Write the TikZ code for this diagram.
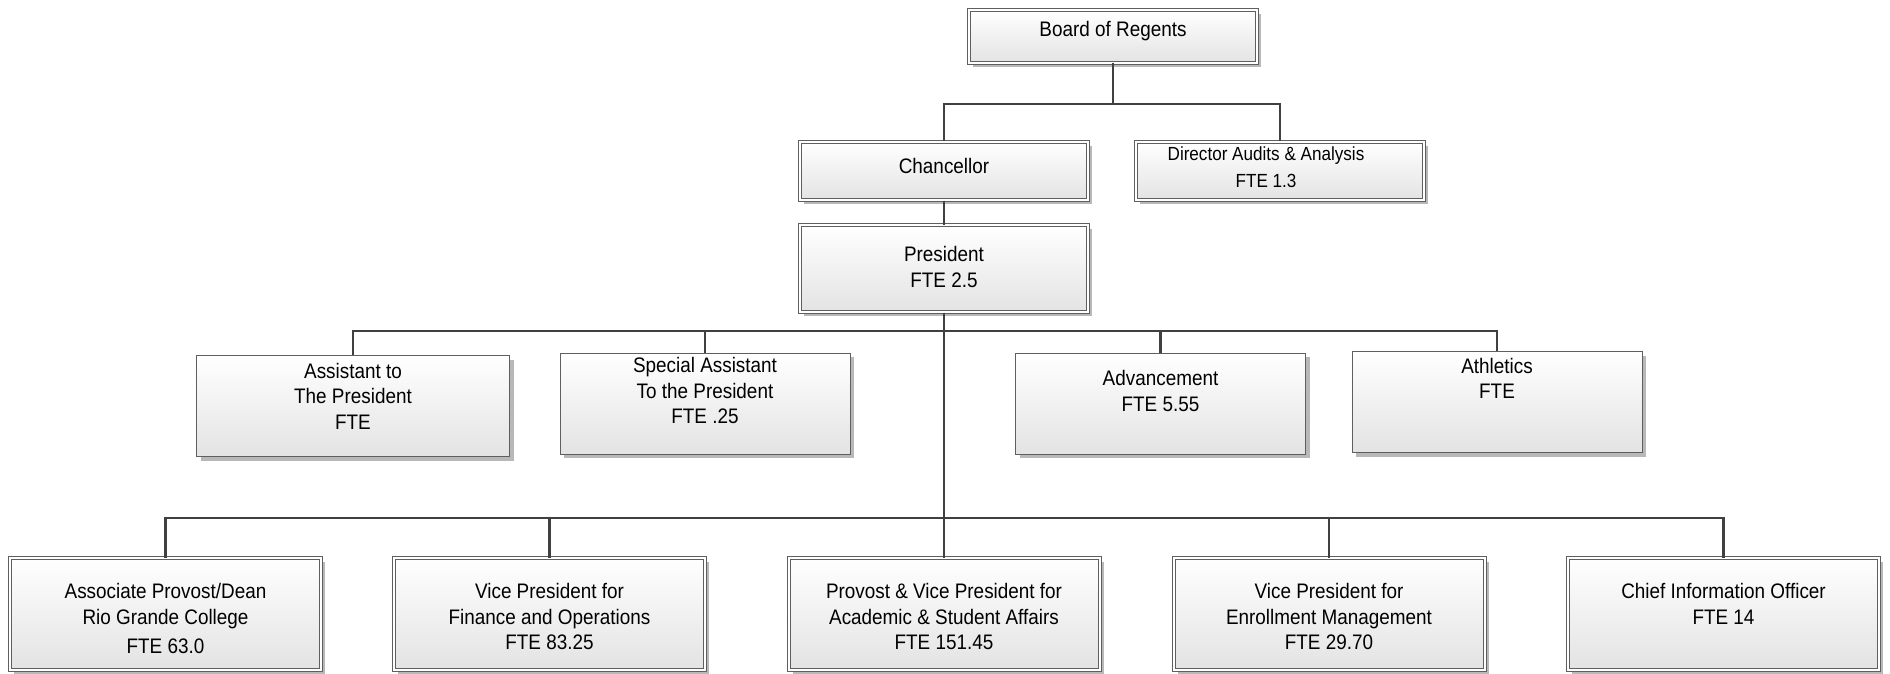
\documentclass[tikz,border=0pt]{standalone}
\usepackage{fontspec}
\setmainfont{Liberation Sans}[FakeStretch=0.9]
\usetikzlibrary{positioning,shadows}

\definecolor{linegray}{RGB}{64,64,64}
\definecolor{boxgray}{RGB}{95,95,95}

\tikzset{
  conn/.style={draw=linegray, line width=1.45pt},
  plainbox/.style={draw=boxgray, line width=0.5pt, top color=white, bottom color=black!11,
    drop shadow={shadow xshift=2pt, shadow yshift=-2pt, fill=black!28, opacity=1},
    inner sep=0pt, minimum width=145pt, minimum height=50.5pt},
  dblbox/.style={plainbox, double=white, double distance=1pt},
  txt/.style={align=center, inner sep=0pt, font=\fontsize{10.5}{12.75}\selectfont},
}

\begin{document}
\begin{tikzpicture}[x=0.5pt,y=-0.5pt]
        \useasboundingbox (0,0) rectangle (1890,674);

        % top of the chart
        \node[dblbox, minimum width=144pt, minimum height=26.5pt] (board) at (1113,36.5) {};
        \node[dblbox, minimum width=144pt, minimum height=29pt] (chanc) at (944,171) {};
        \node[dblbox, minimum width=144pt, minimum height=29pt] (audit) at (1280,171) {};
        \node[dblbox, minimum width=144pt, minimum height=43.5pt] (pres) at (944,268.5) {};

        % staff of the president
        \node[plainbox, minimum width=156.5pt] (asst) at (353,406) {};
        \node[plainbox] (spec) at (705,403.5) {};
        \node[plainbox] (adv) at (1160.5,403.5) {};
        \node[plainbox] (ath) at (1497,402) {};

        % vice presidents
        \node[dblbox, minimum width=155.5pt, minimum height=56pt] (assoc) at (165.5,614) {};
        \node[dblbox, minimum width=155.5pt, minimum height=56pt] (vpfin) at (549.5,614) {};
        \node[dblbox, minimum width=155.5pt, minimum height=56pt] (prov) at (944,614) {};
        \node[dblbox, minimum width=155.5pt, minimum height=56pt] (vpenr) at (1329,614) {};
        \node[dblbox, minimum width=155.5pt, minimum height=56pt] (cio) at (1723.5,614) {};

        % Text Node
        \node[txt, below=5.75pt of board.north] (boardlbl) {Board of Regents};
        \node[txt, below=8.25pt of chanc.north] (chanclbl) {Chancellor};
        \node[txt, font=\fontsize{9.5}{13.5}\selectfont, below=2.5pt of audit.north, xshift=-7pt] (auditlbl) {Director Audits \& Analysis\\FTE 1.3};
        \node[txt, below=10.75pt of pres.north] (preslbl) {President\\FTE 2.5};
        \node[txt, below=3.75pt of asst.north] (asstlbl) {Assistant to\\The President\\FTE};
        \node[txt, below=2.25pt of spec.north] (speclbl) {Special Assistant\\To the President\\FTE .25};
        \node[txt, below=8.75pt of adv.north] (advlbl) {Advancement\\FTE 5.55};
        \node[txt, below=3.25pt of ath.north] (athlbl) {Athletics\\FTE};
        \node[txt, below=12.75pt of assoc.north] (assoclbl) {Associate Provost/Dean\\Rio Grande College\\[2pt]FTE 63.0};
        \node[txt, below=12.75pt of vpfin.north] (vpfinlbl) {Vice President for\\Finance and Operations\\FTE 83.25};
        \node[txt, below=12.75pt of prov.north] (provlbl) {Provost \& Vice President for\\Academic \& Student Affairs\\FTE 151.45};
        \node[txt, below=12.75pt of vpenr.north] (vpenrlbl) {Vice President for\\Enrollment Management\\FTE 29.70};
        \node[txt, below=12.75pt of cio.north] (ciolbl) {Chief Information Officer\\FTE 14};

        % connectors
        \coordinate (bus1) at (1113,104);
        \coordinate (bus2) at (944,331);
        \coordinate (bus3) at (944,518);
        \draw[conn] (board) -- (bus1);
        \draw[conn] (bus1) -| (chanc);
        \draw[conn] (bus1) -| (audit);
        \draw[conn] (chanc) -- (pres);
        \draw[conn] (pres) -- (bus3);
        \foreach \n in {asst,spec,adv,ath}
          \draw[conn] (bus2) -| (\n);
        \foreach \n in {assoc,vpfin,prov,vpenr,cio}
          \draw[conn] (bus3) -| (\n);

\end{tikzpicture}
\end{document}
